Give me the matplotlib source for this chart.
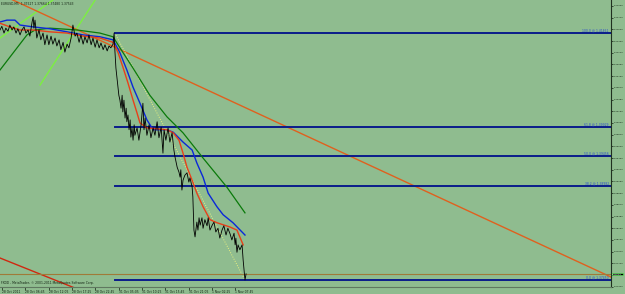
import matplotlib.pyplot as plt
import matplotlib.transforms as mtransforms

# ---- data (M5 bars, price) ----
close_bar = [0, 5, 11, 16, 22, 27, 33, 38, 44, 49, 55, 60, 66, 71, 77, 82, 88, 91, 93, 96,
             101, 107, 112, 118, 123, 129, 134, 140, 145, 151, 156, 162, 167, 173, 178, 184, 189, 195, 200, 206,
             211, 217, 222, 228, 233, 239, 244, 250, 255, 261, 266, 272, 277, 283, 288, 294, 299, 304, 310, 313,
             315, 318, 321, 324, 326, 329, 332, 335, 337, 340, 343, 346, 348, 351, 354, 357, 359, 362, 365, 368,
             370, 376, 381, 387, 392, 395, 398, 403, 409, 414, 420, 425, 431, 436, 442, 447, 450, 455, 461, 466,
             472, 477, 480, 486, 491, 494, 496, 499, 502, 507, 513, 518, 521, 527, 529, 531, 532, 535, 538, 540,
             543, 546, 549, 554, 557, 562, 568, 571, 576, 582, 587, 592, 598, 603, 609, 614, 620, 625, 631, 636,
             642, 645, 647, 650, 653, 658, 664, 667, 669, 672, 675]
close_px = [1.4151, 1.4157, 1.4146, 1.4154, 1.4149, 1.4159, 1.4151, 1.4156, 1.4146, 1.4153, 1.4143, 1.4151, 1.4156, 1.4146, 1.4151, 1.4141, 1.4164, 1.4172, 1.4154, 1.4167,
            1.4138, 1.4151, 1.4135, 1.4146, 1.4127, 1.4143, 1.4127, 1.4141, 1.4128, 1.4138, 1.4125, 1.4135, 1.4119, 1.4131, 1.4115, 1.4128, 1.4122, 1.4138, 1.4159, 1.4141,
            1.4146, 1.4131, 1.4143, 1.4128, 1.4140, 1.4130, 1.4143, 1.4127, 1.4138, 1.4123, 1.4135, 1.4122, 1.4130, 1.4119, 1.4127, 1.4117, 1.4125, 1.4122, 1.4128, 1.4146,
            1.4119, 1.4089, 1.4073, 1.4057, 1.4045, 1.4037, 1.4024, 1.4045, 1.4018, 1.4037, 1.4008, 1.4024, 1.4002, 1.4013, 1.3989, 1.4005, 1.3977, 1.3992, 1.3972, 1.3997,
            1.3980, 1.3992, 1.3972, 1.3997, 1.4032, 1.3989, 1.4008, 1.3980, 1.3997, 1.3976, 1.3992, 1.3980, 1.4002, 1.3976, 1.3993, 1.3951, 1.3989, 1.3972, 1.3992, 1.3969,
            1.3984, 1.3956, 1.3945, 1.3928, 1.3920, 1.3912, 1.3924, 1.3891, 1.3907, 1.3915, 1.3919, 1.3904, 1.3911, 1.3896, 1.3880, 1.3847, 1.3826, 1.3815, 1.3829, 1.3839,
            1.3826, 1.3846, 1.3834, 1.3846, 1.3829, 1.3843, 1.3833, 1.3846, 1.3826, 1.3834, 1.3839, 1.3823, 1.3829, 1.3813, 1.3826, 1.3833, 1.3818, 1.3829, 1.3820, 1.3810,
            1.3821, 1.3802, 1.3813, 1.3790, 1.3802, 1.3794, 1.3802, 1.3777, 1.3764, 1.3745, 1.3755]

# fast MA (red)
ma_fast_bar = [0, 27, 55, 91, 137, 184, 228, 274, 310, 324, 337, 351, 365, 376, 384, 403, 458, 475, 491, 502, 513, 527, 540, 557, 576, 595, 631, 650, 667]
ma_fast_px = [1.4162, 1.4156, 1.4151, 1.4151, 1.4148, 1.4146, 1.4141, 1.4138, 1.4131, 1.4114, 1.4091, 1.4065, 1.4037, 1.4016, 1.4000, 1.3992, 1.3989, 1.3984, 1.3972, 1.3951, 1.3928, 1.3907, 1.3886, 1.3864, 1.3843, 1.3838, 1.3831, 1.3826, 1.3802]

# medium MA (blue)
ma_mid_bar = [0, 19, 41, 55, 91, 137, 184, 228, 274, 310, 321, 329, 348, 365, 384, 403, 420, 458, 475, 502, 527, 540, 557, 571, 595, 612, 639, 672]
ma_mid_px = [1.4164, 1.4167, 1.4167, 1.4159, 1.4156, 1.4153, 1.4148, 1.4143, 1.4140, 1.4135, 1.4123, 1.4114, 1.4086, 1.4058, 1.4032, 1.4005, 1.3989, 1.3989, 1.3985, 1.3969, 1.3956, 1.3935, 1.3912, 1.3886, 1.3864, 1.3851, 1.3838, 1.3818]

# slow MA (green)
ma_slow_bar = [0, 74, 96, 137, 211, 274, 310, 329, 365, 411, 458, 502, 557, 622, 672]
ma_slow_px = [1.4086, 1.4143, 1.4151, 1.4154, 1.4151, 1.4146, 1.4140, 1.4122, 1.4089, 1.4045, 1.4010, 1.3984, 1.3943, 1.3896, 1.3854]

# trend lines (bar, price) pairs
trend_main = ([0, 1676], [1.42094, 1.37498])
trend_low = ([0, 219], [1.37807, 1.37287])
trend_green_a = ([0, 145], [1.41380, 1.41997])
trend_green_b = ([110, 261], [1.40617, 1.41997])
fibo_trend = ([315, 672], [1.41461, 1.37450])
bid_price = 1.37543

fib_names = ['100.0', '61.8', '50.0', '38.2', '0.0']
fib_levels = [1.41461, 1.39929, 1.39456, 1.38982, 1.37450]
fib_start = 315

time_labels = ['28 Oct 2011', '28 Oct 06:45', '28 Oct 12:05', '28 Oct 17:25', '28 Oct 22:45',
               '31 Oct 05:05', '31 Oct 10:25', '31 Oct 15:45', '31 Oct 21:05', '1 Nov 02:25', '1 Nov 07:45']
price_ticks = [1.37340 + 0.0019 * n for n in range(25)]

bg = '#8fbc8f'
fs = 2.2
fs_axis = 1.75
fig = plt.figure(figsize=(6.25, 2.94), dpi=100, facecolor=bg)
ax = fig.add_axes([0, 7 / 294, 611 / 625, 287 / 294], facecolor=bg)

# trend objects
ax.plot(*trend_green_a, color='#7cf040', lw=1.0)
ax.plot(*trend_green_b, color='#7cf040', lw=1.0)
ax.plot(*trend_main, color='#e0601e', lw=1.0)
ax.plot(*trend_low, color='#d02810', lw=1.0)
ax.plot(*fibo_trend, color='#e8f080', lw=0.7, ls=(0, (1, 1.5)))

# fibonacci levels
for name, lvl in zip(fib_names, fib_levels):
    ax.plot([fib_start, 1676], [lvl, lvl], color='#0a1c8a', lw=1.4)
    ax.text(1670, lvl + 0.00012, f'{name} @ {lvl:.5f}', color='#2848d0', fontsize=fs,
            ha='right', va='bottom')

ax.axhline(bid_price, color='#a07a38', lw=0.8)

# moving averages + price
ax.plot(ma_slow_bar, ma_slow_px, color='#0a7a0a', lw=0.9)
ax.plot(ma_mid_bar, ma_mid_px, color='#0a28d8', lw=1.0)
ax.plot(ma_fast_bar, ma_fast_px, color='#e8401a', lw=1.0)
ax.plot(close_bar, close_px, color='black', lw=0.6)

ax.set_xlim(0, 1676)
ax.set_ylim(1.37336, 1.41997)

# axes like the terminal
ax.yaxis.tick_right()
ax.set_yticks(price_ticks)
ax.set_yticklabels(['' if abs(p - bid_price) < 0.0009 else f'{p:.5f}' for p in price_ticks],
                   fontsize=fs_axis, color='#102010')
ax.tick_params(axis='y', length=1.5, width=0.5, pad=0.4, colors='#102010')
ax.set_xticks([5.5 + 64 * i for i in range(len(time_labels))])
ax.set_xticklabels(time_labels, fontsize=fs, color='#102010', ha='left')
ax.tick_params(axis='x', length=2, width=0.5, pad=0.5, colors='#102010')
for s in ['top', 'left']:
    ax.spines[s].set_visible(False)
ax.spines['right'].set_color('#203020')
ax.spines['right'].set_linewidth(0.8)
ax.spines['bottom'].set_color('#607860')
ax.spines['bottom'].set_linewidth(0.8)

# current price marker
trans = mtransforms.blended_transform_factory(ax.transAxes, ax.transData)
ax.text(1.002, bid_price, f'{bid_price:.5f}', transform=trans, fontsize=fs_axis, color='white',
        va='center', ha='left', bbox=dict(facecolor='black', edgecolor='#60ff60', pad=0.4, lw=0.4),
        clip_on=False)

ax.text(2, 1.41997 - 0.0007, 'EURUSD,M5  1.37527 1.37664 1.37480 1.37543', fontsize=fs,
        color='#102010', va='center', ha='left')
ax.text(2, 1.37336 + 0.0006, 'FXDD - MetaTrader, \u00a9 2001-2011 MetaQuotes Software Corp.',
        fontsize=fs, color='#102010', va='center', ha='left')

plt.savefig('out.png', dpi=100, facecolor=bg)
